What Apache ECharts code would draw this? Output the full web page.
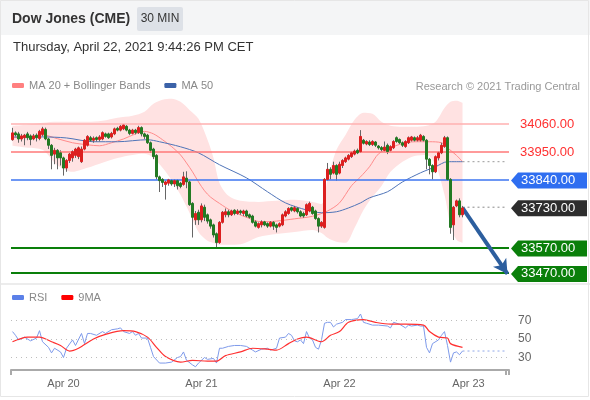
<!DOCTYPE html>
<html><head><meta charset="utf-8">
<script src="https://cdn.jsdelivr.net/npm/echarts@6/dist/echarts.min.js"></script>
<style>html,body{margin:0;padding:0;background:#fff}#c{width:590px;height:400px}</style>
</head><body><div id="c"></div>
<script>
// ---------- DATA ----------
const opens  = [33997,34024,34020,34000,34005,34020,34012,34000,34015,34002,34018,34038,34000,33975,33940,33955,33945,33925,33885,33915,33925,33935,33930,33910,33960,33975,34005,33995,34005,33998,34000,34020,34020,34008,34020,34042,34035,34040,34050,34035,34022,34035,34025,34045,34020,34015,33985,33960,33935,33850,33840,33820,33825,33835,33822,33835,33825,33820,33845,33830,33745,33680,33710,33680,33730,33700,33680,33660,33625,33590,33670,33700,33712,33700,33718,33705,33715,33705,33715,33700,33695,33672,33650,33660,33672,33665,33655,33670,33660,33655,33660,33695,33705,33728,33715,33725,33712,33705,33700,33715,33730,33715,33685,33655,33650,33840,33880,33865,33895,33865,33895,33910,33920,33930,33940,33955,33950,33995,33980,33988,33978,33988,33972,33966,33955,33975,33955,33965,34005,33998,33985,33970,33985,33995,34005,33995,33995,34010,33995,33920,33895,33870,33925,33945,33970,34005,33840,33660,33735,33755,33700];
const closes = [34024,34016,34000,34012,34015,34005,33998,34012,34005,34030,34040,34000,33975,33935,33955,33925,33925,33885,33915,33940,33950,33960,33965,33960,33995,34010,33995,34003,33998,34008,34025,34010,34005,34022,34040,34035,34050,34055,34035,34022,34035,34025,34045,34020,34010,33985,33955,33930,33850,33835,33828,33830,33838,33822,33835,33815,33812,33850,33830,33740,33690,33705,33680,33735,33690,33675,33655,33620,33590,33670,33710,33712,33700,33715,33705,33715,33708,33715,33695,33690,33670,33655,33665,33672,33660,33655,33670,33655,33650,33665,33700,33712,33725,33718,33728,33712,33695,33695,33740,33745,33705,33685,33655,33670,33840,33880,33860,33895,33860,33900,33915,33925,33935,33945,33952,33945,34010,33983,33990,33978,33990,33975,33965,33958,33968,33950,33970,33990,33990,33985,33975,33990,34005,34008,33995,34005,34015,33995,33920,33895,33870,33930,33945,33975,34005,33840,33650,33730,33755,33700,33727];
const lows   = [33993,34010,33985,33990,33975,33995,33975,33995,33990,33995,34010,33995,33960,33880,33900,33880,33895,33855,33870,33905,33910,33925,33920,33905,33955,33970,33990,33985,33990,33990,33995,34005,34000,34002,34015,34030,34030,34035,34030,34015,34018,34018,34020,34010,34000,33980,33945,33920,33840,33790,33810,33760,33815,33815,33810,33800,33805,33815,33805,33735,33610,33660,33660,33670,33675,33665,33645,33610,33572,33585,33665,33690,33690,33695,33698,33700,33700,33695,33690,33685,33665,33650,33645,33650,33655,33648,33650,33640,33630,33650,33655,33690,33700,33712,33710,33705,33690,33688,33695,33710,33700,33680,33630,33648,33645,33835,33840,33860,33835,33860,33885,33905,33915,33925,33935,33940,33945,33978,33975,33972,33972,33968,33958,33950,33950,33940,33950,33960,33985,33980,33968,33965,33980,33990,33990,33990,33990,33990,33880,33860,33840,33865,33915,33940,33965,33835,33625,33600,33730,33690,33690];
const highs  = [34044,34030,34028,34020,34020,34028,34018,34020,34022,34036,34048,34045,34005,33980,33965,33960,33955,33930,33920,33945,33955,33965,33970,33970,34000,34015,34012,34010,34010,34015,34030,34025,34025,34028,34045,34048,34055,34058,34055,34040,34040,34040,34052,34050,34025,34020,33990,33965,33940,33855,33845,33835,33842,33840,33840,33840,33830,33870,33872,33835,33750,33715,33720,33745,33740,33705,33685,33665,33630,33675,33715,33725,33720,33720,33722,33722,33720,33720,33720,33705,33700,33678,33670,33678,33676,33670,33675,33675,33665,33670,33705,33718,33730,33732,33735,33730,33718,33712,33745,33752,33735,33720,33690,33675,33845,33905,33888,33910,33900,33910,33920,33930,33940,33950,33958,33962,34035,34000,33995,33995,33995,33992,33976,33972,33990,33982,33975,33995,34010,34002,33990,33995,34010,34012,34010,34012,34020,34015,34000,33925,33900,33935,33950,33985,34012,34010,33845,33735,33760,33765,33735];

const categoryCount = 166;
const categories = Array.from({length: categoryCount}, (_, i) => String(i));
const dateTickIndex = [17, 63, 109, 152];
const dateTickText  = ['Apr 20', 'Apr 21', 'Apr 22', 'Apr 23'];

const bandIdx   = [0,5,10,15,20,25,30,35,40,44,47,50,53,56,59,62,65,67,69,72,76,82,88,94,100,103,105,108,111,114,117,120,123,126,130,134,138,141,144,146,148,150];
const bandUpper = [34052,34056,34064,34068,34068,34068,34072,34084,34092,34108,34139,34155,34159,34147,34115,34080,33997,33925,33826,33775,33755,33751,33755,33759,33751,33743,33838,33957,34016,34076,34104,34100,34068,34052,34048,34048,34052,34068,34123,34147,34151,34143];
const bandLower = [33973,33965,33957,33895,33870,33886,33906,33925,33937,33941,33925,33886,33838,33779,33708,33632,33597,33588,33581,33581,33583,33612,33624,33632,33640,33628,33609,33593,33589,33648,33719,33771,33814,33870,33910,33933,33937,33898,33779,33660,33601,33589];

const ma20Idx = [0,5,10,15,20,25,29,33,37,41,44,47,50,53,56,58,60,62,64,66,69,73,78,83,88,94,100,105,109,113,116,119,122,126,131,135,139,143,145,148,150];
const ma20Val = [34005,34008,34016,34001,33985,33977,33973,33985,34000,34020,34030,34020,33997,33970,33937,33905,33870,33830,33795,33770,33745,33715,33690,33672,33675,33684,33694,33715,33747,33815,33850,33890,33941,33965,33985,33989,33989,33985,33965,33935,33910];

const ma50Idx = [0,10,18,27,35,45,49,56,62,69,78,85,91,98,103,108,112,116,119,125,130,136,141,145,150];
const ma50Val = [34008,34008,34004,33989,33989,33997,33989,33969,33945,33898,33846,33791,33747,33719,33708,33712,33727,33747,33767,33791,33830,33866,33890,33910,33910];

const rsiIdx = [0,1,2,4,6,8,9,10,12,13,14,16,17,18,20,21,23,24,25,26,28,30,31,33,35,36,37,39,40,41,42,43,45,46,47,49,51,53,55,56,57,58,60,61,62,64,65,67,68,69,70,72,74,76,78,80,81,83,85,86,88,89,91,92,93,94,95,96,97,98,99,100,101,102,103,104,105,106,107,108,110,111,113,115,116,117,118,120,122,125,126,127,129,131,132,133,135,136,137,138,139,140,142,143,144,145,146,147,148,149,150];
const rsiVal = [58,54,49,52,48,51,59,47,41,35,40,36,30,40,49,43,56,45,56,56,54,58,56,60,61,62,58,56,58,54,56,51,51,41,31,24,24,25,30,31,36,27,22,20,24,30,28,29,24,40,40,42,43,43,42,38,36,39,40,38,40,51,52,56,54,48,47,49,45,58,51,49,41,39,49,67,68,68,63,66,68,71,71,72,77,68,67,65,65,64,62,68,66,62,65,64,65,64,64,41,35,45,49,54,58,43,25,35,36,33,37];

const rsiMaIdx = [0,5,9,13,16,19,22,27,31,37,41,45,48,51,56,60,65,68,71,76,80,85,88,92,95,98,103,106,109,112,117,121,126,131,137,139,142,145,146,150];
const rsiMaVal = [47,52,52,47,43,37,40,50,55,59,58,52,41,31,25,27,26,26,32,36,40,39,38,45,50,52,47,54,58,68,71,68,66,66,65,58,52,51,45,41];

const rsiLevels = [30, 50, 70];
const priceLevels = [34060, 33950, 33840, 33730, 33570, 33470];
const lastPrice = 33730;
const ma50Last = 33910;
const rsiLast = 37;
const arrowFrom = [150, 33727];
const arrowTo = [165, 33466];

// ---------- STYLES ----------
const FONT = '"Liberation Sans", Arial, sans-serif';
const levelLineStyle = [
  {color:'#ffb0b0', width:1.5, type:'solid'},
  {color:'#ff7878', width:1.5, type:'solid'},
  {color:'#3d74f0', width:1.5, type:'solid'},
  null,
  {color:'#0a7f0a', width:2, type:'solid'},
  {color:'#0a7f0a', width:2, type:'solid'}
];
const levelLabelStyle = [
  {kind:'text', color:'#ff3030'},
  {kind:'text', color:'#ff3030'},
  {kind:'box', color:'#2f6ef0'},
  {kind:'box', color:'#2d2d2d'},
  {kind:'box', color:'#0a7f0a'},
  {kind:'box', color:'#0a7f0a'}
];

const pairs = (ix, vals) => ix.map((x, k) => [x, vals[k]]);
const ohlc = opens.map((o, k) => [o, closes[k], lows[k], highs[k]]);
const bodies = opens.map((o, k) => [o, closes[k], Math.min(o, closes[k]), Math.max(o, closes[k])]);
const lastI = opens.length - 1;
const endI = categoryCount - 1;

const chart = echarts.init(document.getElementById('c'), null, {renderer:'canvas'});

const option = {
  animation: false,
  textStyle: {fontFamily: FONT},
  grid: [
    {left: 11, width: 498, top: 96, height: 187},
    {left: 11, width: 498, top: 306.6, height: 63.4}
  ],
  legend: [
    {left: 12, top: 80, padding: 0, itemWidth: 12, itemHeight: 5, itemGap: 14, icon: 'roundRect',
     textStyle: {color:'#888', fontSize: 11, fontFamily: FONT},
     data: [{name:'MA 20 + Bollinger Bands', itemStyle:{color:'#ff8080'}}, {name:'MA 50', itemStyle:{color:'#3b62a8'}}]},
    {left: 12, top: 292, padding: 0, itemWidth: 12, itemHeight: 5, itemGap: 14, icon: 'roundRect',
     textStyle: {color:'#888', fontSize: 11, fontFamily: FONT},
     data: [{name:'RSI', itemStyle:{color:'#5b80e8'}}, {name:'9MA', itemStyle:{color:'#ff0000'}}]}
  ],
  xAxis: [
    {type:'category', gridIndex:0, data: categories, boundaryGap: true, show: false},
    {type:'category', gridIndex:1, data: categories, boundaryGap: true,
     axisLine: {show: true, lineStyle: {color:'#aaaaaa', width: 2}},
     axisTick: {show: true, length: 5, interval: (i) => i === 0 || i === endI, lineStyle:{color:'#aaaaaa', width: 2}},
     axisLabel: {show: true, margin: 8, color:'#666', fontSize: 11, fontFamily: FONT,
       interval: (i) => dateTickIndex.indexOf(i) >= 0,
       formatter: (v, i) => { const k = dateTickIndex.indexOf(i); return k >= 0 ? dateTickText[k] : ''; }},
     splitLine: {show: false}}
  ],
  yAxis: [
    {type:'value', gridIndex:0, min: 33430, max: 34170, show: false, splitLine:{show:false}},
    {type:'value', gridIndex:1, min: 16.5, max: 85, show: false, splitLine:{show:false}}
  ],
  series: [
    {name:'bandBase', type:'line', xAxisIndex:0, yAxisIndex:0, stack:'bb', smooth:0.3, symbol:'none', silent:true,
     lineStyle:{opacity:0}, data: pairs(bandIdx, bandLower), z:1},
    {name:'bandFill', type:'line', xAxisIndex:0, yAxisIndex:0, stack:'bb', smooth:0.3, symbol:'none', silent:true,
     lineStyle:{opacity:0}, areaStyle:{color:'#ffe2e2', opacity:1},
     data: bandIdx.map((x, k) => [x, bandUpper[k] - bandLower[k]]), z:1},
    {name:'MA 20 + Bollinger Bands', type:'line', xAxisIndex:0, yAxisIndex:0, smooth:0.3, symbol:'none',
     lineStyle:{color:'#ff8c8c', width:1}, itemStyle:{color:'#ff8080'}, data: pairs(ma20Idx, ma20Val), z:3},
    {name:'MA 50', type:'line', xAxisIndex:0, yAxisIndex:0, smooth:0.3, symbol:'none',
     lineStyle:{color:'#4f74b8', width:1}, itemStyle:{color:'#3b62a8'}, data: pairs(ma50Idx, ma50Val), z:3},
    {name:'levels', type:'line', xAxisIndex:0, yAxisIndex:0, symbol:'none', silent:true, data: [], z:3,
     markLine: {silent:true, symbol:'none', label:{show:false}, animation:false,
       emphasis:{disabled:true},
       data: priceLevels.map((v, k) => levelLineStyle[k] ? {yAxis: v, lineStyle: levelLineStyle[k]} : null).filter(Boolean)}},
    {name:'ext', type:'line', xAxisIndex:0, yAxisIndex:0, symbol:'none', silent:true,
     lineStyle:{color:'#999', width:1, type:[2,3]}, data: [[lastI, ma50Last], [endI, ma50Last]], z:3},
    {name:'ext2', type:'line', xAxisIndex:0, yAxisIndex:0, symbol:'none', silent:true,
     lineStyle:{color:'#888', width:1, type:[2,3]}, data: [[lastI, lastPrice], [endI, lastPrice]], z:3},
    {name:'wicks', type:'candlestick', xAxisIndex:0, yAxisIndex:0, barWidth:1, silent:true,
     itemStyle:{color:'#666', color0:'#666', borderColor:'#666', borderColor0:'#666', borderWidth:1},
     data: ohlc, z:4},
    {name:'bodies', type:'candlestick', xAxisIndex:0, yAxisIndex:0, barWidth:1.6, silent:true,
     itemStyle:{color:'#dc1f1f', color0:'#237a23', borderColor:'#dc1f1f', borderColor0:'#237a23', borderWidth:1},
     data: bodies, z:5,
     markLine: {silent:true, symbol:['none','arrow'], symbolSize:[12,14], label:{show:false}, animation:false,
       lineStyle:{color:'#2c5e9e', width:4, type:'solid'},
       data: [[{coord: arrowFrom}, {coord: arrowTo}]]}},
    {name:'RSI', type:'line', xAxisIndex:1, yAxisIndex:1, symbol:'none',
     lineStyle:{color:'#7e9aea', width:1}, itemStyle:{color:'#5b80e8'}, data: pairs(rsiIdx, rsiVal), z:3,
     markLine: {silent:true, symbol:'none', animation:false,
       lineStyle:{color:'#bdbdbd', width:1, type:[1,4]},
       label:{show:true, position:'end', distance:9, color:'#666', fontSize:12, fontFamily:FONT, formatter:'{c}'},
       data: rsiLevels.map(v => ({yAxis: v}))}},
    {name:'9MA', type:'line', xAxisIndex:1, yAxisIndex:1, symbol:'none', smooth:0.3,
     lineStyle:{color:'#ff3030', width:1.2}, itemStyle:{color:'#ff0000'}, data: pairs(rsiMaIdx, rsiMaVal), z:4},
    {name:'rsiExt', type:'line', xAxisIndex:1, yAxisIndex:1, symbol:'none', silent:true,
     lineStyle:{color:'#8fa6e8', width:1, type:[2,3]}, data: [[lastI, rsiLast], [endI, rsiLast]], z:3}
  ]
};
chart.setOption(option);

// ---------- texts, header and right-side price labels ----------
const g = [
  {type:'rect', shape:{x:0, y:0, width:590, height:35}, style:{fill:'#f4f5f6'}, z:-10},
  {type:'rect', shape:{x:137, y:7, width:46, height:24, r:2}, style:{fill:'#dde1e7'}, z:-9},
  {type:'text', x:12, y:19, style:{text:'Dow Jones (CME)', font:'bold 14px ' + FONT, fill:'#333', verticalAlign:'middle'}},
  {type:'text', x:160, y:19, style:{text:'30 MIN', font:'12px ' + FONT, fill:'#333', align:'center', verticalAlign:'middle'}},
  {type:'text', x:13, y:47, style:{text:'Thursday, April 22, 2021 9:44:26 PM CET', font:'13px ' + FONT, fill:'#333', verticalAlign:'middle'}},
  {type:'text', x:580, y:87, style:{text:'Research \u00a9 2021 Trading Central', font:'11px ' + FONT, fill:'#999', align:'right', verticalAlign:'middle'}},
  {type:'rect', shape:{x:0, y:283, width:590, height:2}, style:{fill:'#ececec'}, z:-10},
  {type:'rect', shape:{x:0.5, y:0.5, width:588, height:396}, style:{fill:null, stroke:'#e6e6e6', lineWidth:1}, z:-10}
];
priceLevels.forEach((v, k) => {
  const y = chart.convertToPixel({yAxisIndex: 0}, v) + 1;
  const st = levelLabelStyle[k];
  const txt = v.toFixed(2);
  if (st.kind === 'text') {
    g.push({type:'text', x:520, y: y, style:{text: txt, font:'13px ' + FONT, fill: st.color, verticalAlign:'middle'}});
  } else {
    g.push({type:'polygon', shape:{points:[[511, y], [518, y - 8], [587, y - 8], [587, y + 8], [518, y + 8]]}, style:{fill: st.color}});
    g.push({type:'text', x:521, y: y, style:{text: txt, font:'13px ' + FONT, fill:'#fff', verticalAlign:'middle'}});
  }
});
chart.setOption({graphic: g});
</script>
</body></html>
